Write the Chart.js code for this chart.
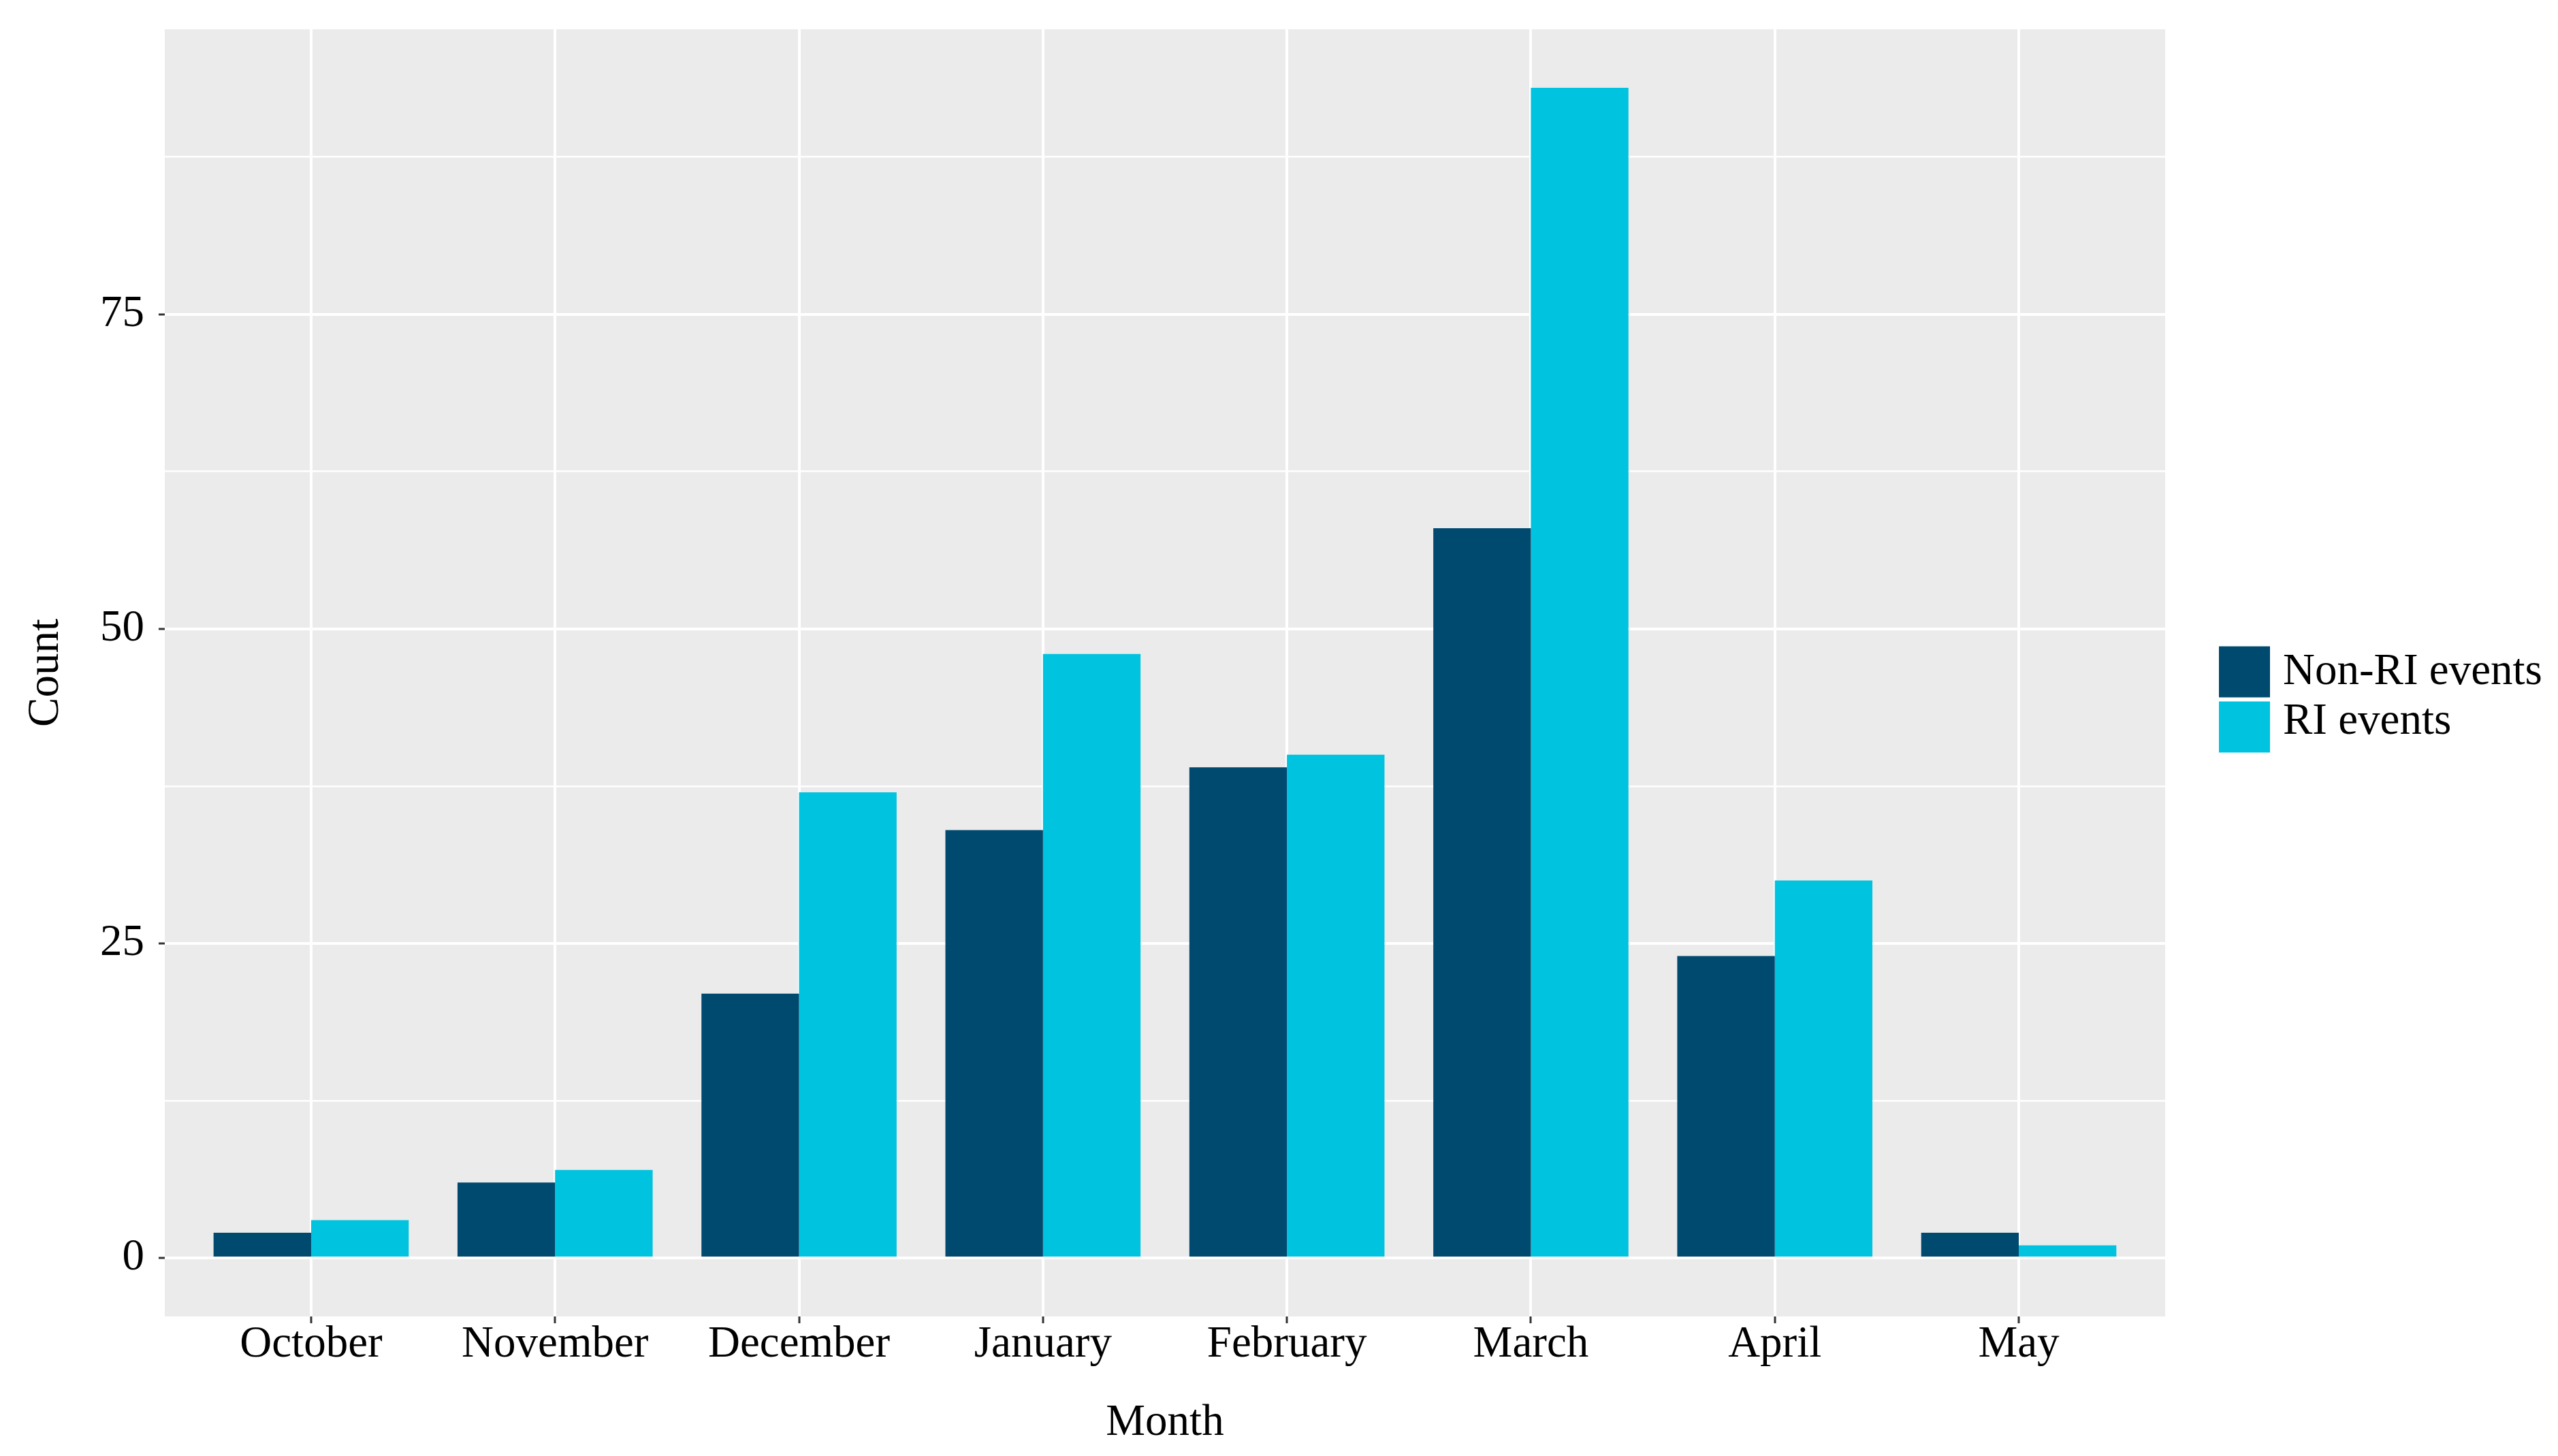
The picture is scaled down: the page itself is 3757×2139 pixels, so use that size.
<!DOCTYPE html>
<html>
<head>
<meta charset="utf-8">
<script src="https://cdn.jsdelivr.net/npm/chart.js@4/dist/chart.umd.min.js"></script>
<style>
  html, body { margin: 0; padding: 0; background: #fff; }
  #wrap { width: 3757px; height: 2139px; }
</style>
</head>
<body>
<div id="wrap"><canvas id="chart" width="3757" height="2139"></canvas></div>
<script>
var months = ['October', 'November', 'December', 'January', 'February', 'March', 'April', 'May'];
var nonRiEvents = [2, 6, 21, 34, 39, 58, 24, 2];
var riEvents = [3, 7, 37, 48, 40, 93, 30, 1];
var seriesNames = ['Non-RI events', 'RI events'];
var seriesColors = ['#00496f', '#00c3e0'];
var yMajorTicks = [0, 25, 50, 75];
var yMinorTicks = [12.5, 37.5, 62.5, 87.5];

var FONT = 'Liberation Serif';

function toPoints(values) {
    return values.map(function(v, i) { return {x: i, y: v}; });
}

function isMajor(ctx) {
    return ctx.tick && yMajorTicks.indexOf(ctx.tick.value) !== -1;
}

// grey ggplot-like panel behind the grid
var panelBackground = {
    id: 'panelBackground',
    beforeDraw: function(chart) {
        var ctx = chart.ctx, a = chart.chartArea;
        ctx.save();
        ctx.fillStyle = '#ffffff';
        ctx.fillRect(0, 0, chart.width, chart.height);
        ctx.fillStyle = '#ebebeb';
        ctx.fillRect(a.left, a.top, a.right - a.left, a.bottom - a.top);
        ctx.restore();
    }
};

// legend drawn to the right of the panel, keys stacked like ggplot
var sideLegend = {
    id: 'sideLegend',
    afterDraw: function(chart) {
        var ctx = chart.ctx, a = chart.chartArea;
        var key = 75, gap = 6;
        var x = a.right + 79;
        var top = (a.top + a.bottom) / 2 + 39 - (key * 2 + gap) / 2;
        ctx.save();
        ctx.font = '65px "' + FONT + '"';
        ctx.textBaseline = 'alphabetic';
        ctx.textAlign = 'left';
        chart.data.datasets.forEach(function(ds, i) {
            var y = top + i * (key + gap);
            ctx.fillStyle = ds.backgroundColor;
            ctx.fillRect(x, y, key, key);
            ctx.fillStyle = '#000';
            ctx.fillText(ds.label, x + key + 19, y + key / 2 + 18 - i * 8);
        });
        ctx.restore();
    }
};

var chart = new Chart(document.getElementById('chart'), {
    type: 'bar',
    data: {
        datasets: [
            {label: seriesNames[0], data: toPoints(nonRiEvents), backgroundColor: seriesColors[0], borderWidth: 0},
            {label: seriesNames[1], data: toPoints(riEvents), backgroundColor: seriesColors[1], borderWidth: 0}
        ]
    },
    options: {
        responsive: false,
        animation: false,
        devicePixelRatio: 1,
        categoryPercentage: 0.8,
        barPercentage: 1.0,
        layout: {padding: {left: 0, top: 43, right: 577, bottom: 0}},
        plugins: {
            legend: {display: false},
            tooltip: {enabled: false}
        },
        scales: {
            x: {
                type: 'linear',
                min: -0.6,
                max: 7.6,
                offset: false,
                afterBuildTicks: function(scale) {
                    scale.ticks = months.map(function(m, i) { return {value: i}; });
                },
                afterFit: function(scale) {
                    scale.height = 205;
                    scale.paddingLeft = 0;
                    scale.paddingRight = 0;
                },
                border: {display: false},
                grid: {
                    offset: false,
                    color: '#ffffff',
                    lineWidth: 4,
                    drawTicks: true,
                    tickLength: 10,
                    tickWidth: 3,
                    tickColor: '#333333'
                },
                ticks: {
                    autoSkip: false,
                    maxRotation: 0,
                    padding: -1,
                    color: '#000',
                    font: {family: FONT, size: 65, lineHeight: 1},
                    callback: function(value) { return months[value]; }
                },
                title: {
                    display: true,
                    text: 'Month',
                    color: '#000',
                    font: {family: FONT, size: 65, lineHeight: 1.2},
                    padding: {top: 0, bottom: 9}
                }
            },
            y: {
                min: -4.65,
                max: 97.65,
                afterBuildTicks: function(scale) {
                    scale.ticks = yMajorTicks.concat(yMinorTicks).sort(function(a, b) { return a - b; })
                        .map(function(v) { return {value: v}; });
                },
                afterFit: function(scale) {
                    scale.width = 242;
                    scale.paddingTop = 0;
                    scale.paddingBottom = 0;
                },
                border: {display: false},
                grid: {
                    color: '#ffffff',
                    lineWidth: function(ctx) { return isMajor(ctx) ? 4 : 2.5; },
                    drawTicks: true,
                    tickLength: 9,
                    tickWidth: 3,
                    tickColor: function(ctx) { return isMajor(ctx) ? '#333333' : 'rgba(0,0,0,0)'; }
                },
                ticks: {
                    padding: 21,
                    color: '#000',
                    font: {family: FONT, size: 65},
                    callback: function(value) { return yMajorTicks.indexOf(value) !== -1 ? String(value) : ''; }
                },
                title: {
                    display: true,
                    text: 'Count',
                    color: '#000',
                    font: {family: FONT, size: 65, lineHeight: 1.2},
                    padding: {top: 29, bottom: 0}
                }
            }
        }
    },
    plugins: [panelBackground, sideLegend]
});
</script>
</body>
</html>
